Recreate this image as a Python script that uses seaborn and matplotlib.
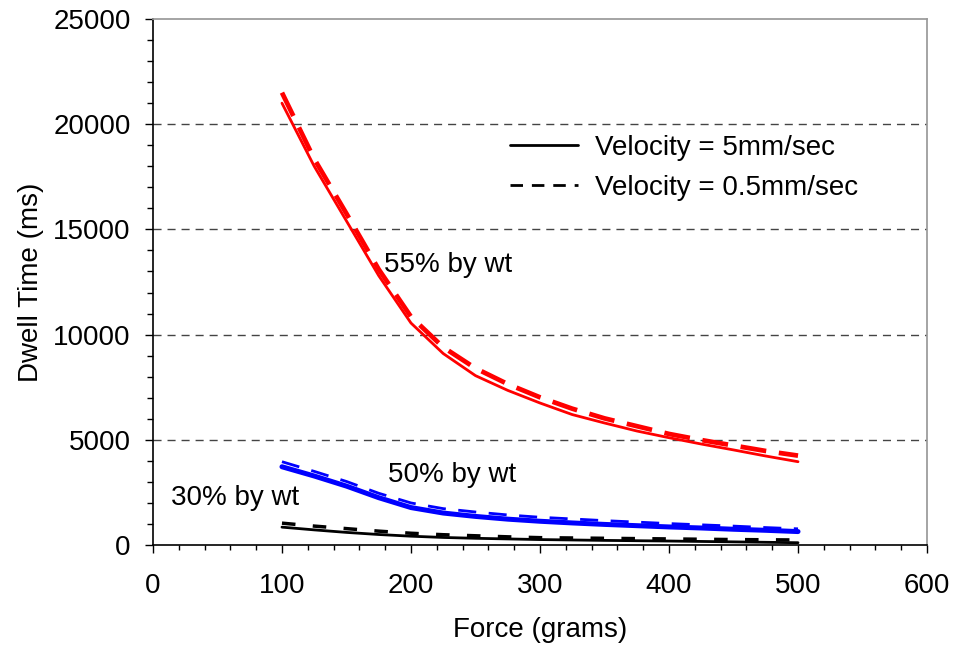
import numpy as np
import pandas as pd
import matplotlib
matplotlib.use("Agg")
import matplotlib.pyplot as plt
from matplotlib.lines import Line2D
from matplotlib.ticker import MultipleLocator
import seaborn as sns

force = [100, 125, 150, 175, 200, 225, 250, 275, 300, 325, 350, 375, 400, 425, 450, 475, 500]

red_fast = [21000, 18000, 15400, 12800, 10550, 9100, 8050, 7350, 6750, 6200, 5800, 5420, 5100, 4800, 4520, 4230, 3960]
red_slow = [21500, 18350, 15750, 13100, 10850, 9400, 8400, 7650, 7020, 6480, 6020, 5650, 5280, 4990, 4730, 4470, 4250]
blue_fast = [3720, 3280, 2800, 2250, 1780, 1520, 1360, 1230, 1130, 1050, 980, 920, 860, 810, 750, 700, 640]
blue_slow = [3960, 3500, 3020, 2460, 2000, 1730, 1570, 1430, 1320, 1240, 1160, 1090, 1020, 960, 900, 830, 770]
black_fast = [850, 720, 600, 500, 420, 360, 320, 290, 260, 240, 220, 205, 190, 170, 150, 130, 110]
black_slow = [1040, 900, 780, 660, 560, 490, 440, 390, 350, 335, 320, 305, 290, 275, 260, 250, 240]

labels = ["55% by wt", "50% by wt", "30% by wt"]
legend_labels = ["Velocity = 5mm/sec", "Velocity = 0.5mm/sec"]

series = [
    (red_fast, "#ff0000", "-", 2.0),
    (red_slow, "#ff0000", (0, (5.5, 2.7)), 3.4),
    (blue_fast, "#0000ff", "-", 3.6),
    (blue_slow, "#0000ff", (0, (6.5, 4.5)), 2.0),
    (black_fast, "#000000", "-", 2.0),
    (black_slow, "#000000", (0, (3.9, 5.0)), 2.5),
]

sns.set_theme(style="white")
plt.rcParams['font.family'] = ['Liberation Sans', 'DejaVu Sans']
plt.rcParams['text.color'] = 'black'

fig, ax = plt.subplots(figsize=(9.56, 6.46), dpi=100)
fig.subplots_adjust(left=0.16, right=0.9697, top=0.9706, bottom=0.1563)

for vals, col, ls, lw in series:
    df = pd.DataFrame({"Force": force, "Dwell": vals})
    sns.lineplot(data=df, x="Force", y="Dwell", ax=ax, color=col,
                 linestyle=ls, linewidth=lw, legend=False)

ax.set_xlim(0, 600)
ax.set_ylim(0, 25000)
ax.xaxis.set_major_locator(MultipleLocator(100))
ax.xaxis.set_minor_locator(MultipleLocator(20))
ax.yaxis.set_major_locator(MultipleLocator(5000))
ax.yaxis.set_minor_locator(MultipleLocator(1000))
ax.tick_params(axis="both", which="major", direction="out", length=6, width=1.0,
               labelsize=20, colors="black", bottom=True, left=True)
ax.tick_params(axis="both", which="minor", direction="out", length=4.5, width=1.0,
               bottom=True, left=True, colors="black")
ax.tick_params(axis="x", which="major", pad=14)
ax.tick_params(axis="x", which="minor", length=3.8)
ax.tick_params(axis="y", which="major", pad=10)
for y in [5000, 10000, 15000, 20000]:
    ax.axhline(y, color="#444444", linestyle=(0, (5.8, 4.3)), linewidth=1.0, zorder=0)

ax.spines["left"].set_color("black")
ax.spines["bottom"].set_color("black")
ax.spines["left"].set_linewidth(1.2)
ax.spines["bottom"].set_linewidth(1.2)
ax.spines["top"].set_color("#999999")
ax.spines["right"].set_color("#999999")

ax.set_xlabel("Force (grams)", fontsize=20, color="black", labelpad=13)
ax.set_ylabel("Dwell Time (ms)", fontsize=20, color="black", labelpad=7)

ax.text(179, 13300, labels[0], fontsize=20, va="center", ha="left")
ax.text(182, 3330, labels[1], fontsize=20, va="center", ha="left")
ax.text(14, 2230, labels[2], fontsize=20, va="center", ha="left")

handles = [Line2D([0], [0], color="black", lw=2.0, linestyle="-"),
           Line2D([0], [0], color="black", lw=2.0, linestyle=(0, (4.5, 3.2)))]
ax.legend(handles, legend_labels,
          loc="center left", bbox_to_anchor=(0.461, 0.717), frameon=False,
          fontsize=20, handlelength=2.45, labelspacing=0.48, handletextpad=0.6,
          borderpad=0, borderaxespad=0)

fig.savefig("out.png", dpi=100)
